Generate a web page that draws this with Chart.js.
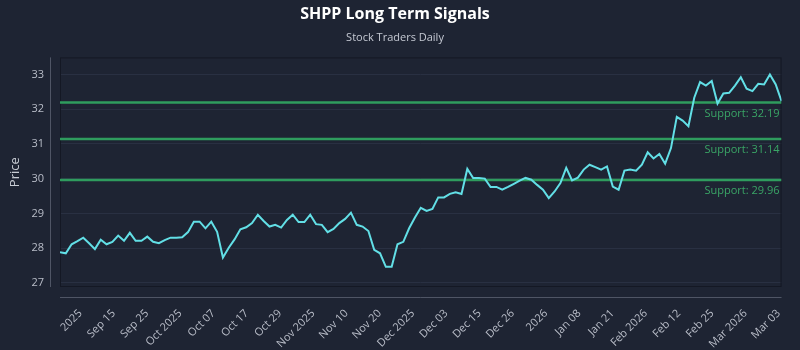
<!DOCTYPE html>
<html>
<head>
<meta charset="utf-8">
<script src="https://cdn.jsdelivr.net/npm/chart.js@4/dist/chart.umd.min.js"></script>
<style>
  html, body { margin: 0; padding: 0; background: #1e2433; }
  #wrap { width: 800px; height: 350px; }
</style>
</head>
<body>
<div id="wrap"><canvas id="signals"></canvas></div>
<script>
// daily closes, oldest first
const prices = [
  27.88, 27.85, 28.11, 28.20, 28.30, 28.14, 27.97, 28.24, 28.11, 28.18,
  28.36, 28.21, 28.44, 28.21, 28.21, 28.33, 28.18, 28.14, 28.23, 28.30,
  28.30, 28.31, 28.46, 28.76, 28.76, 28.57, 28.76, 28.47, 27.73, 28.01,
  28.25, 28.54, 28.60, 28.72, 28.96, 28.78, 28.62, 28.67, 28.59, 28.81,
  28.96, 28.75, 28.75, 28.96, 28.69, 28.67, 28.46, 28.55, 28.72, 28.84,
  29.02, 28.67, 28.62, 28.49, 27.95, 27.85, 27.46, 27.46, 28.11, 28.18,
  28.57, 28.88, 29.16, 29.07, 29.13, 29.46, 29.46, 29.56, 29.61, 29.56,
  30.28, 30.02, 30.02, 30.00, 29.76, 29.76, 29.68, 29.76, 29.85, 29.94,
  30.02, 29.97, 29.82, 29.68, 29.44, 29.63, 29.87, 30.31, 29.95, 30.03,
  30.26, 30.40, 30.33, 30.26, 30.35, 29.77, 29.68, 30.23, 30.26, 30.23,
  30.40, 30.76, 30.58, 30.71, 30.43, 30.88, 31.78, 31.67, 31.51, 32.33,
  32.78, 32.68, 32.81, 32.16, 32.45, 32.47, 32.68, 32.92, 32.59, 32.52,
  32.73, 32.71, 33.00, 32.71, 32.23
];

const supportLevels = [32.19, 31.14, 29.96];

const tickLabels = [
  '2025', 'Sep 15', 'Sep 25', 'Oct 2025', 'Oct 07', 'Oct 17', 'Oct 29',
  'Nov 2025', 'Nov 10', 'Nov 20', 'Dec 2025', 'Dec 03', 'Dec 15', 'Dec 26',
  '2026', 'Jan 08', 'Jan 21', 'Feb 2026', 'Feb 12', 'Feb 25', 'Mar 2026', 'Mar 03'
];

const yTicks = [27, 28, 29, 30, 31, 32, 33];

const lastIdx = prices.length - 1;
const firstTick = 3.5;
const lastTick = lastIdx - 0.5;

const priceColor = '#62dfe6';
const supportColor = '#2f9c5e';
const supportText = '#3aa566';
const tickColor = '#b9bdc8';

const priceData = prices.map((v, i) => ({ x: i, y: v }));
const supportSets = supportLevels.map(level => ({
  data: [{ x: 0, y: level }, { x: lastIdx, y: level }],
  borderColor: supportColor,
  borderWidth: 2.5,
  pointRadius: 0,
  order: 1,
}));

// outline of the plot box plus offset axis spines and support captions
const frame = {
  id: 'frame',
  beforeDatasetsDraw(chart) {
    const { ctx, chartArea: a } = chart;
    ctx.save();
    ctx.strokeStyle = '#141824';
    ctx.lineWidth = 1;
    ctx.strokeRect(a.left + 0.5, a.top + 0.5, a.right - a.left - 1, a.bottom - a.top - 1);
    ctx.strokeStyle = '#4f5565';
    ctx.beginPath();
    ctx.moveTo(a.left - 9.5, a.top);
    ctx.lineTo(a.left - 9.5, a.bottom);
    ctx.moveTo(a.left, a.bottom + 10.5);
    ctx.lineTo(a.right, a.bottom + 10.5);
    ctx.stroke();
    ctx.restore();
  },
  afterDatasetsDraw(chart) {
    const { ctx, chartArea: a, scales: { y } } = chart;
    ctx.save();
    ctx.fillStyle = supportText;
    ctx.font = '11px "Open Sans"';
    ctx.textAlign = 'right';
    ctx.textBaseline = 'middle';
    supportLevels.forEach(level => {
      ctx.fillText('Support: ' + level.toFixed(2), a.right - 2, y.getPixelForValue(level) + 11);
    });
    ctx.restore();
  },
};

new Chart(document.getElementById('signals'), {
  type: 'line',
  data: {
    datasets: [{
      data: priceData,
      borderColor: priceColor,
      borderWidth: 2,
      pointRadius: 0,
      tension: 0,
      order: 0,
    }, ...supportSets],
  },
  options: {
    responsive: true,
    maintainAspectRatio: false,
    animation: false,
    layout: { padding: { left: 0, right: 10, top: 0, bottom: 0 } },
    plugins: {
      legend: { display: false },
      tooltip: { enabled: false },
      title: {
        display: true,
        text: 'SHPP Long Term Signals',
        color: '#ffffff',
        font: { family: 'Open Sans', size: 16, weight: 'bold' },
        padding: { top: 5, bottom: 3 },
      },
      subtitle: {
        display: true,
        text: 'Stock Traders Daily',
        color: '#c5c9d3',
        font: { family: 'Open Sans', size: 11 },
        padding: { top: 4, bottom: 13 },
      },
    },
    scales: {
      x: {
        type: 'linear',
        min: 0,
        max: lastIdx,
        grid: { display: false },
        border: { display: false },
        afterBuildTicks(scale) {
          const step = (lastTick - firstTick) / (tickLabels.length - 1);
          scale.ticks = tickLabels.map((_, k) => ({ value: firstTick + k * step }));
        },
        afterFit(scale) { scale.height = 63; },
        ticks: {
          autoSkip: false,
          maxRotation: 45,
          minRotation: 45,
          padding: 12,
          color: tickColor,
          font: { family: 'Open Sans', size: 11 },
          callback: (value, index) => tickLabels[index],
        },
      },
      y: {
        min: 26.88,
        max: 33.49,
        grid: { color: '#293042', drawTicks: false },
        border: { display: false },
        afterBuildTicks(scale) {
          scale.ticks = yTicks.map(v => ({ value: v }));
        },
        afterFit(scale) { scale.width = 60; },
        ticks: {
          padding: 16,
          color: tickColor,
          font: { family: 'Open Sans', size: 11 },
        },
        title: {
          display: true,
          text: 'Price',
          color: '#c8ccd4',
          font: { family: 'Open Sans', size: 13 },
          padding: { top: 7, bottom: 0 },
        },
      },
    },
  },
  plugins: [frame],
});
</script>
</body>
</html>
